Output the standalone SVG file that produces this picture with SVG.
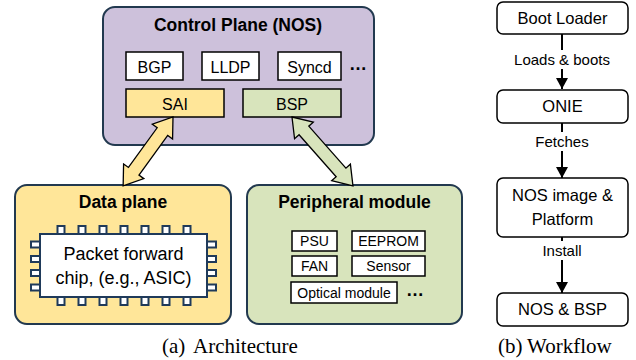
<svg xmlns="http://www.w3.org/2000/svg" xmlns:xlink="http://www.w3.org/1999/xlink" width="636" height="360" viewBox="0 0 636 360">
<style>
text{font-family:"Liberation Sans",Arial,sans-serif;fill:#000;text-anchor:middle}
.ttl{font-size:17.5px;font-weight:bold}
.m{font-size:16px}
.chipt{font-size:18px}
.s{font-size:14px}
.wf{font-size:16.5px}
.lbl{font-size:15px}
.cap{font-family:"Liberation Serif","Times New Roman",serif;font-size:21px;text-anchor:start}
.outer{stroke:#22394f;stroke-width:2}
.wb{fill:#fff;stroke:#000;stroke-width:1.5}
.pin{fill:#fff;stroke:#1f3a5a;stroke-width:2}
.arr{stroke:#000;stroke-width:1.3;stroke-linejoin:miter}
.conn{stroke:#000;stroke-width:2;fill:none}
.dots{font-size:18px;font-weight:bold}
</style>
<defs>
<marker id="ah" markerUnits="userSpaceOnUse" markerWidth="14" markerHeight="12" refX="11" refY="6" orient="auto">
<path d="M0,0 L11,6 L0,12 Z" fill="#000"/>
</marker>
</defs>

<g id="control-plane">
<rect class="outer" x="103" y="7" width="271" height="138" rx="12" fill="#cdc1db"/>
<text class="ttl" x="238" y="31">Control Plane (NOS)</text>
</g>
<g id="bgp"><rect class="wb" x="126" y="52" width="57" height="28"/><text class="m" x="154.5" y="73">BGP</text></g>
<g id="lldp"><rect class="wb" x="202" y="52" width="57" height="28"/><text class="m" x="230.5" y="73">LLDP</text></g>
<g id="syncd"><rect class="wb" x="278" y="52" width="63" height="28"/><text class="m" x="309.5" y="73">Syncd</text></g>
<g id="cp-more"><text class="dots" x="358" y="70">…</text></g>
<g id="sai"><rect x="126" y="89" width="98" height="28" fill="#ffe699" stroke="#000" stroke-width="1.5"/><text class="m" x="175" y="110">SAI</text></g>
<g id="bsp"><rect x="243" y="89" width="98" height="28" fill="#d8e4bc" stroke="#000" stroke-width="1.5"/><text class="m" x="292" y="110">BSP</text></g>

<g id="data-plane">
<rect class="outer" x="15" y="185" width="216" height="139" rx="12" fill="#ffe699"/>
<text class="ttl" x="123" y="208">Data plane</text>
</g>
<g id="chip">
<g>
<rect class="pin" x="57.5" y="226" width="7" height="8"/>
<rect class="pin" x="78.5" y="226" width="7" height="8"/>
<rect class="pin" x="99.5" y="226" width="7" height="8"/>
<rect class="pin" x="120.5" y="226" width="7" height="8"/>
<rect class="pin" x="141.5" y="226" width="7" height="8"/>
<rect class="pin" x="162.5" y="226" width="7" height="8"/>
<rect class="pin" x="183.5" y="226" width="7" height="8"/>
<rect class="pin" x="57.5" y="297" width="7" height="8"/>
<rect class="pin" x="78.5" y="297" width="7" height="8"/>
<rect class="pin" x="99.5" y="297" width="7" height="8"/>
<rect class="pin" x="120.5" y="297" width="7" height="8"/>
<rect class="pin" x="141.5" y="297" width="7" height="8"/>
<rect class="pin" x="162.5" y="297" width="7" height="8"/>
<rect class="pin" x="183.5" y="297" width="7" height="8"/>
<rect class="pin" x="31" y="241.5" width="9" height="6"/>
<rect class="pin" x="31" y="256" width="9" height="6"/>
<rect class="pin" x="31" y="270" width="9" height="6"/>
<rect class="pin" x="31" y="284.5" width="9" height="6"/>
<rect class="pin" x="207" y="241.5" width="9" height="6"/>
<rect class="pin" x="207" y="256" width="9" height="6"/>
<rect class="pin" x="207" y="270" width="9" height="6"/>
<rect class="pin" x="207" y="284.5" width="9" height="6"/>
</g>
<rect x="40" y="234" width="167" height="63" fill="#fff" stroke="#1f3a5a" stroke-width="2"/>
<text class="chipt" x="123.5" y="260">Packet forward</text>
<text class="chipt" x="123.5" y="284">chip, (e.g., ASIC)</text>
</g>

<g id="peripheral-module">
<rect class="outer" x="247" y="185" width="215" height="139" rx="12" fill="#d8e4bc"/>
<text class="ttl" x="354.5" y="208">Peripheral module</text>
</g>
<g id="psu"><rect class="wb" x="292" y="231" width="45" height="20"/><text class="s" x="314.5" y="246">PSU</text></g>
<g id="eeprom"><rect class="wb" x="352" y="231" width="73" height="20"/><text class="s" x="388.5" y="246">EEPROM</text></g>
<g id="fan"><rect class="wb" x="292" y="256" width="45" height="20"/><text class="s" x="314.5" y="271">FAN</text></g>
<g id="sensor"><rect class="wb" x="352" y="256" width="73" height="20"/><text class="s" x="388.5" y="271">Sensor</text></g>
<g id="optical"><rect class="wb" x="291" y="282" width="106" height="21"/><text class="s" x="344" y="297.5">Optical module</text></g>
<g id="pm-more"><text class="dots" x="415" y="296">…</text></g>

<g id="connectors">
<g id="sai-arrow" transform="translate(173,117) rotate(125.9)">
<polygon class="arr" fill="#ffe699" points="0,0 18,-12.5 18,-6.5 67,-6.5 67,-12.5 85,0 67,12.5 67,6.5 18,6.5 18,12.5"/>
</g>
<g id="bsp-arrow" transform="translate(292,117) rotate(48.5)">
<polygon class="arr" fill="#d8e4bc" points="0,0 18,-12.5 18,-6.5 74,-6.5 74,-12.5 92,0 74,12.5 74,6.5 18,6.5 18,12.5"/>
</g>
<line class="conn" x1="562" y1="34" x2="562" y2="89" marker-end="url(#ah)"/>
<line class="conn" x1="562" y1="123" x2="562" y2="178" marker-end="url(#ah)"/>
<line class="conn" x1="562" y1="237" x2="562" y2="293" marker-end="url(#ah)"/>
<rect x="513" y="50" width="98" height="19" fill="#fff"/>
<text class="lbl" x="562" y="65">Loads &amp; boots</text>
<rect x="534" y="132" width="56" height="19" fill="#fff"/>
<text class="lbl" x="562" y="147">Fetches</text>
<rect x="536" y="241" width="52" height="19" fill="#fff"/>
<text class="lbl" x="562" y="256">Install</text>
</g>

<g id="boot-loader"><rect class="wb" x="497" y="2" width="131" height="32" rx="6"/><text class="wf" x="562.5" y="24">Boot Loader</text></g>
<g id="onie"><rect class="wb" x="497" y="90" width="131" height="33" rx="6"/><text class="wf" x="562.5" y="112">ONIE</text></g>
<g id="nos-image"><rect class="wb" x="497" y="178" width="131" height="59" rx="6"/><text class="wf" x="562.5" y="201">NOS image &amp;</text><text class="wf" x="562.5" y="225">Platform</text></g>
<g id="nos-bsp"><rect class="wb" x="497" y="293" width="131" height="33" rx="6"/><text class="wf" x="562.5" y="315">NOS &amp; BSP</text></g>

<g id="captions">
<text class="cap" x="162" y="353">(a)<tspan x="193">Architecture</tspan></text>
<text class="cap" x="498" y="353">(b)<tspan x="527">Workflow</tspan></text>
</g>
</svg>
